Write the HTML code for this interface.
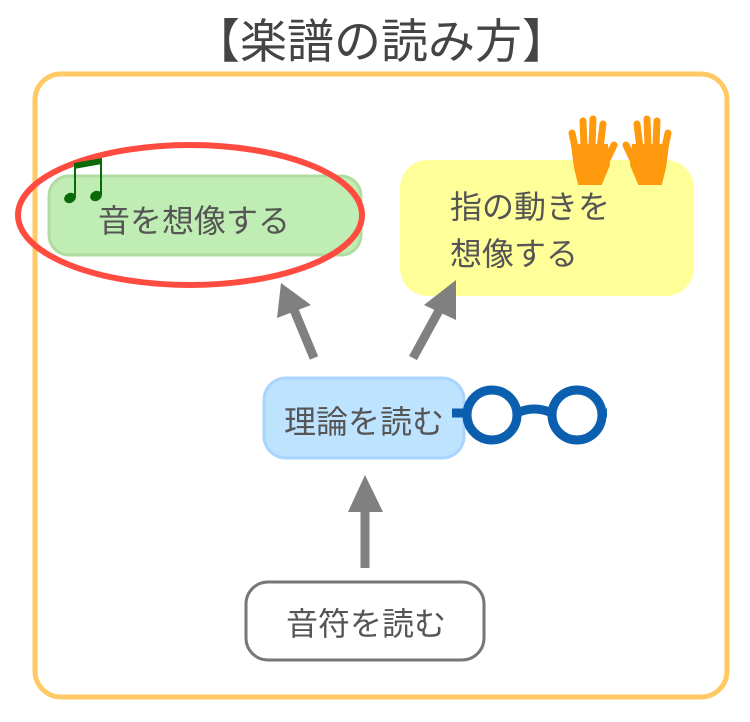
<!DOCTYPE html>
<html><head><meta charset="utf-8"><style>
html,body{margin:0;padding:0;background:#fff;}
svg{display:block;}
text{font-family:"Liberation Sans","Noto Sans CJK JP",sans-serif;fill:#555;}
</style></head><body>
<svg width="750" height="722" viewBox="0 0 750 722" xmlns="http://www.w3.org/2000/svg">
<text x="381" y="58" font-size="47" text-anchor="middle" style="fill:#444">【楽譜の読み方】</text>
<rect x="35" y="74" width="692" height="623" rx="26" fill="#fff" stroke="#ffc966" stroke-width="5"/>
<!-- green -->
<rect x="49" y="176" width="312" height="79" rx="20" fill="#c0edb4" stroke="#b0dca0" stroke-width="3"/>
<text x="98" y="232" font-size="32">音を想像する</text>
<ellipse cx="190" cy="215" rx="172" ry="70" fill="none" stroke="#ff4b40" stroke-width="6"/>
<!-- notes -->
<g fill="#0a6a0a" stroke="#0a6a0a">
<ellipse cx="70" cy="198" rx="6" ry="5" transform="rotate(-25 70 198)" stroke="none"/>
<ellipse cx="96" cy="196" rx="6" ry="5" transform="rotate(-25 96 196)" stroke="none"/>
<line x1="75" y1="197" x2="75" y2="165" stroke-width="2"/>
<line x1="101" y1="195" x2="101" y2="160" stroke-width="2"/>
<polygon points="74,163 102,158 102,164 74,169" stroke="none"/>
</g>
<!-- yellow -->
<rect x="400" y="160" width="294" height="136" rx="28" fill="#ffff99"/>
<text x="450" y="218" font-size="32">指の動きを</text>
<text x="450" y="265" font-size="32">想像する</text>
<!-- hands -->
<g fill="#ff9a0e" stroke="#ff9a0e" stroke-linecap="round" stroke-width="7">
<line x1="576" y1="152" x2="572" y2="133"/>
<line x1="584" y1="146" x2="583" y2="121"/>
<line x1="592" y1="146" x2="593" y2="119"/>
<line x1="600" y1="148" x2="603" y2="124"/>
<line x1="606" y1="162" x2="614" y2="145"/>
<path d="M572,145 L607,145 L609,165 L601,184 L579,184 L575,168 Z" stroke-width="2"/>
<line x1="664" y1="152" x2="668" y2="133"/>
<line x1="656" y1="146" x2="657" y2="121"/>
<line x1="648" y1="146" x2="647" y2="119"/>
<line x1="640" y1="148" x2="637" y2="124"/>
<line x1="634" y1="162" x2="626" y2="145"/>
<path d="M668,145 L633,145 L631,165 L639,184 L661,184 L665,168 Z" stroke-width="2"/>
</g>
<!-- arrows -->
<g fill="#808080" stroke="#808080">
<line x1="314" y1="358" x2="292" y2="305" stroke-width="9"/>
<polygon points="281,283 277,318 311,305" stroke="none"/>
<line x1="413" y1="358" x2="442" y2="305" stroke-width="9"/>
<polygon points="456,280 424,305 456,320" stroke="none"/>
<line x1="365" y1="568" x2="365" y2="505" stroke-width="9"/>
<polygon points="365,475 348,512 383,512" stroke="none"/>
</g>
<!-- blue -->
<rect x="264" y="378" width="200" height="80" rx="22" fill="#bde3ff" stroke="#a8d4ff" stroke-width="3"/>
<text x="284" y="433" font-size="32">理論を読む</text>
<!-- glasses -->
<g fill="none" stroke="#0b5fae" stroke-width="9">
<circle cx="492" cy="415" r="25"/>
<circle cx="577" cy="415" r="25"/>
<path d="M517,413 Q534,405 552,413"/>
<line x1="452" y1="413" x2="467" y2="413"/>
<line x1="602" y1="413" x2="607" y2="413"/>
</g>
<!-- bottom -->
<rect x="246" y="582" width="238" height="78" rx="22" fill="#fff" stroke="#777" stroke-width="3"/>
<text x="286" y="635" font-size="32">音符を読む</text>
</svg>
</body></html>
